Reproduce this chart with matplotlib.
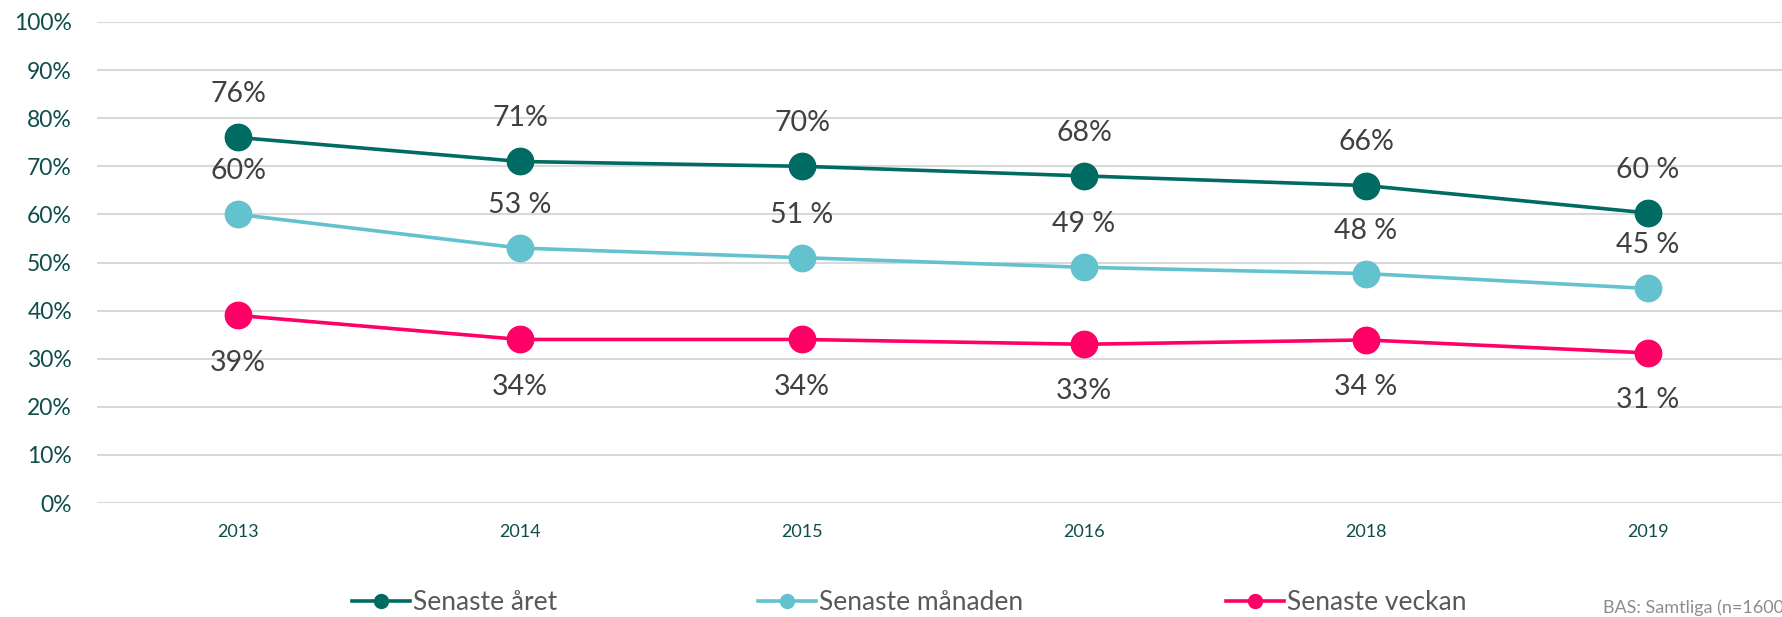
import matplotlib
matplotlib.use("Agg")
import matplotlib.pyplot as plt
from matplotlib.lines import Line2D

# data
years = ["2013", "2014", "2015", "2016", "2018", "2019"]
senaste_aret = [76, 71, 70, 68, 66, 60.3]
senaste_manaden = [60, 53, 51, 49, 47.7, 44.6]
senaste_veckan = [39, 34, 34, 33, 33.9, 31.2]

labels_aret = ["76%", "71%", "70%", "68%", "66%", "60 %"]
labels_manaden = ["60%", "53 %", "51 %", "49 %", "48 %", "45 %"]
labels_veckan = ["39%", "34%", "34%", "33%", "34 %", "31 %"]

series_names = ["Senaste året", "Senaste månaden", "Senaste veckan"]
colors = ["#006B63", "#62C3CE", "#FF0066"]

yticks = list(range(0, 101, 10))

plt.rcParams['font.family'] = ['Lato', 'DejaVu Sans']

W, H = 1783, 617
fig = plt.figure(figsize=(W / 100, H / 100), dpi=100)
ax = fig.add_axes([97 / W, (H - 503) / H, 1692 / W, 481 / H])

x = list(range(len(years)))
series = [
    (senaste_aret, labels_aret, 31),
    (senaste_manaden, labels_manaden, 31),
    (senaste_veckan, labels_veckan, -34),
]

for (vals, labs, off), col in zip(series, colors):
    ax.plot(x, vals, color=col, lw=2.6, marker="o", markersize=19, zorder=3)
    for xi, v, lab in zip(x, vals, labs):
        ax.annotate(lab, (xi, v), xytext=(0, off), textcoords="offset points",
                    ha="center", va="center", fontsize=20.5, color="#404040")

ax.set_xlim(-0.5, len(years) - 0.5)
ax.set_ylim(0, 100)
ax.set_yticks(yticks)
ax.set_yticklabels([f"{t}%" for t in yticks])
ax.set_xticks(x)
ax.set_xticklabels(years)
ax.grid(axis="y", color="#d9d9d9", lw=1.5)
ax.set_axisbelow(True)
for s in ax.spines.values():
    s.set_visible(False)
ax.tick_params(axis="y", length=0, pad=18, labelsize=16.5, labelcolor="#0E4D4A")
ax.tick_params(axis="x", length=0, pad=15, labelsize=13, labelcolor="#0E4D4A")

# legend entries placed like the original (uneven spacing)
leg_x = [352, 758, 1226]
for name, col, lx in zip(series_names, colors, leg_x):
    h = Line2D([], [], color=col, lw=2.6, marker="o", markersize=10)
    leg = fig.legend([h], [name], loc="center left",
                     bbox_to_anchor=(lx / W, (H - 603) / H),
                     frameon=False, handlelength=2.2,
                     handletextpad=0.1, borderpad=0, borderaxespad=0,
                     prop={'family': ['Liberation Sans Narrow', 'Lato'], 'size': 19})
    for t in leg.get_texts():
        t.set_color("#595959")

fig.text(1603 / W, (H - 608) / H, "BAS: Samtliga (n=1600)", fontsize=13,
         color="#8c8c8c", ha="left", va="center",
         family=['Liberation Sans Narrow', 'Lato'])

fig.savefig("out.png", dpi=100)
